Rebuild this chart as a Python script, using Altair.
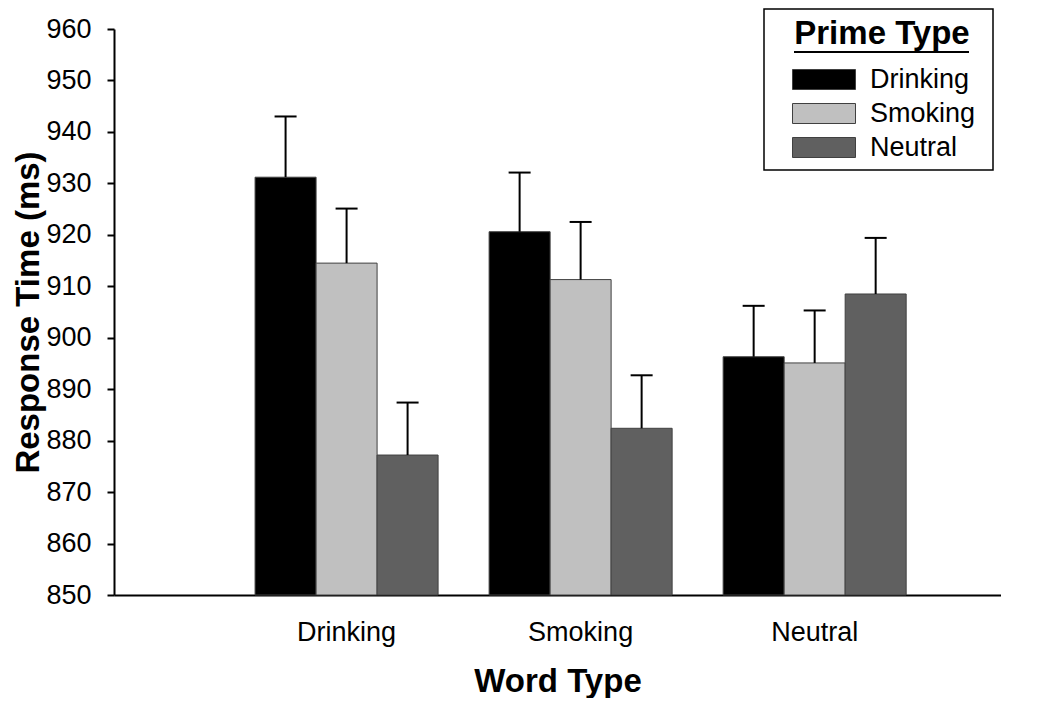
import altair as alt
import pandas as pd

word_types = ["Drinking", "Smoking", "Neutral"]
prime_types = ["Drinking", "Smoking", "Neutral"]
prime_colors = ["#000000", "#c0c0c0", "#606060"]

# mean response time (ms) per word type, in prime-type order
rt_drinking_words = [931.2, 914.5, 877.2]
rt_smoking_words = [920.6, 911.3, 882.4]
rt_neutral_words = [896.3, 895.1, 908.5]

# standard error (ms), same order
se_drinking_words = [11.8, 10.6, 10.2]
se_smoking_words = [11.5, 11.2, 10.3]
se_neutral_words = [9.9, 10.2, 10.9]

rows = []
for w, rts, ses in zip(word_types,
                       [rt_drinking_words, rt_smoking_words, rt_neutral_words],
                       [se_drinking_words, se_smoking_words, se_neutral_words]):
    for p, rt, se in zip(prime_types, rts, ses):
        rows.append({"word": w, "prime": p, "rt": rt, "upper": rt + se})
df = pd.DataFrame(rows)

FONT = "Liberation Sans"

x = alt.X("word:N", sort=word_types,
          scale=alt.Scale(paddingInner=0.218, paddingOuter=0.504, align=0.598),
          axis=alt.Axis(title="Word Type", labelAngle=0, ticks=False, tickSize=0,
                        labelPadding=24, titlePadding=20))
xo = alt.XOffset("prime:N", sort=prime_types,
                 scale=alt.Scale(paddingInner=0, paddingOuter=0))
y = alt.Y("rt:Q", scale=alt.Scale(domain=[850, 960], zero=False, nice=False),
          axis=alt.Axis(title="Response Time (ms)", values=list(range(850, 961, 10)),
                        tickSize=7, tickWidth=2, labelPadding=16, titlePadding=0,
                        grid=False))
color = alt.Color("prime:N", sort=prime_types,
                  scale=alt.Scale(domain=prime_types, range=prime_colors),
                  legend=alt.Legend(orient="none", legendX=675, legendY=-11,
                                    title="Prime Type", titleFontSize=33,
                                    titleFontWeight="bold", titleFont=FONT,
                                    titleAnchor="middle", titleAlign="center",
                                    titleColor="black", titlePadding=15,
                                    labelFontSize=27, labelFont=FONT, labelColor="black",
                                    labelOffset=54,
                                    symbolType="M-1,-1H5.3V1H-1Z",
                                    symbolSize=400, symbolStrokeColor="#404040",
                                    symbolStrokeWidth=1, symbolOpacity=1,
                                    padding=0, rowPadding=6))

base = alt.Chart(df)
bars = base.mark_bar(stroke="#404040", strokeWidth=1, opacity=1).encode(
    x=x, xOffset=xo, y=y, y2=alt.datum(850), color=color)
err = base.mark_rule(color="black", strokeWidth=2).encode(
    x=x, xOffset=xo, y="rt:Q", y2="upper:Q")
caps = base.mark_tick(color="black", thickness=2, size=22, orient="horizontal",
                      opacity=1).encode(x=x, xOffset=xo, y="upper:Q")

deco = alt.Chart(pd.DataFrame({"k": [0]}))
legend_box = deco.mark_rect(fill="white", fillOpacity=0, stroke="black",
                            strokeWidth=1.5).encode(
    x=alt.value(650), x2=alt.value(879), y=alt.value(-20), y2=alt.value(141))
underline = deco.mark_rule(color="black", strokeWidth=2).encode(
    x=alt.value(680), x2=alt.value(855), y=alt.value(23))

chart = alt.layer(bars, err, caps, legend_box, underline).properties(
    width=887, height=566, padding={"left": 4, "top": 0, "right": 0, "bottom": 0}
).configure_view(stroke=None).configure_axis(
    labelFont=FONT, titleFont=FONT, labelFontSize=27, titleFontSize=33,
    titleFontWeight="bold", labelColor="black", titleColor="black",
    domainColor="black", domainWidth=2, tickColor="black"
)

chart.save("out.html", embed_options={"renderer": "svg", "actions": False})
